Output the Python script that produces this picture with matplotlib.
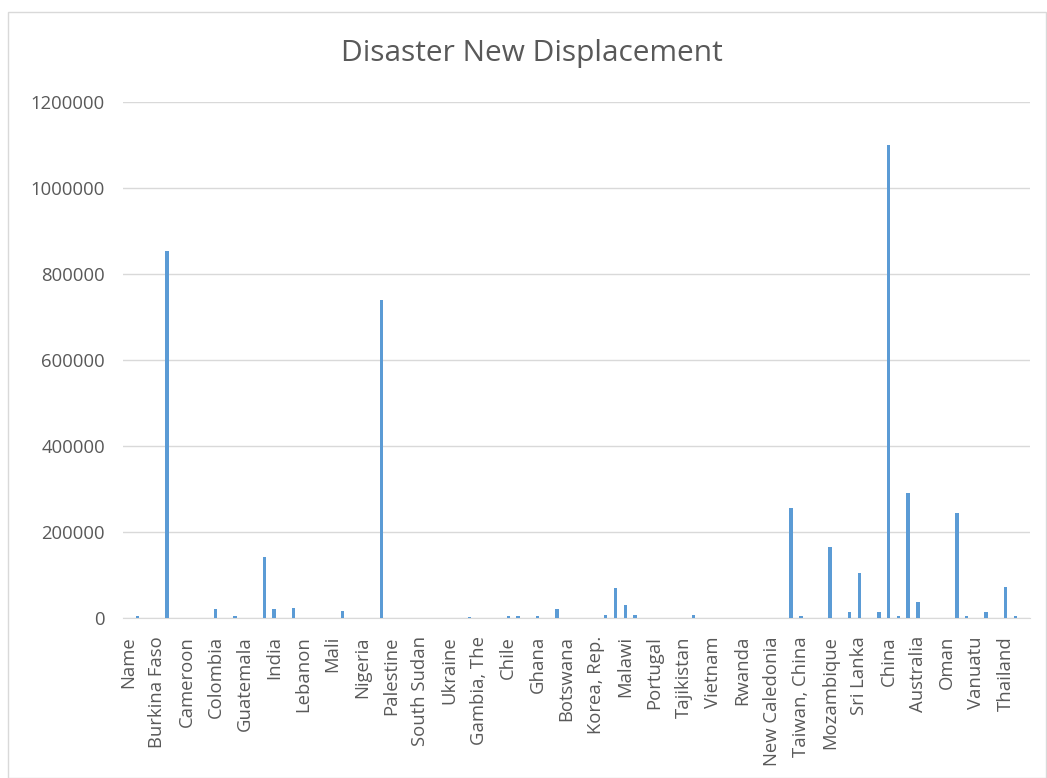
import matplotlib.pyplot as plt
from matplotlib.patches import Rectangle
from matplotlib.ticker import FixedLocator

# every third category carries a visible label
tick_labels = [
    "Name", "Burkina Faso", "Cameroon", "Colombia", "Guatemala", "India",
    "Lebanon", "Mali", "Nigeria", "Palestine", "South Sudan", "Ukraine",
    "Gambia, The", "Chile", "Ghana", "Botswana", "Korea, Rep.", "Malawi",
    "Portugal", "Tajikistan", "Vietnam", "Rwanda", "New Caledonia",
    "Taiwan, China", "Mozambique", "Sri Lanka", "China", "Australia",
    "Oman", "Vanuatu", "Thailand",
]

# new displacements per row (93 rows, 10 per line)
displacement = [
    0, 4000, 0, 0, 853000, 0, 0, 0, 0, 20000,
    0, 4000, 0, 0, 143000, 20000, 0, 24000, 0, 0,
    0, 0, 16000, 0, 0, 0, 740000, 0, 0, 0,
    0, 0, 0, 0, 0, 1500, 0, 0, 0, 4500,
    4500, 0, 4000, 0, 22000, 0, 0, 0, 0, 8000,
    69000, 31000, 8000, 0, 0, 0, 0, 0, 8000, 0,
    0, 0, 0, 0, 0, 0, 0, 0, 255000, 4000,
    0, 0, 165000, 0, 15000, 104000, 0, 15000, 1100000, 4000,
    290000, 38000, 0, 0, 0, 245000, 4000, 0, 15000, 0,
    73000, 4000, 0,
]

text_color = "#595959"
grid_color = "#d9d9d9"
bar_color = "#5b9bd5"

plt.rcParams["font.family"] = ["Open Sans", "DejaVu Sans"]

fig = plt.figure(figsize=(10.47, 7.78), dpi=100)
fig.patches.append(Rectangle((8 / 1047, 0), 1038 / 1047, 1 - 12 / 778,
                             transform=fig.transFigure, fill=False,
                             edgecolor=grid_color, lw=1))

ax = fig.add_axes([123 / 1047, 1 - 618 / 778, 907 / 1047, 516 / 778])
x = range(len(displacement))
ax.bar(x, displacement, width=0.35, color=bar_color, zorder=3)

ax.set_xlim(-0.5, len(displacement) - 0.5)
ax.set_ylim(0, 1200000)
ax.set_yticks(range(0, 1200001, 200000))
ax.set_yticklabels([str(v) for v in range(0, 1200001, 200000)])
ax.xaxis.set_major_locator(FixedLocator(range(0, len(displacement), 3)))
ax.set_xticklabels(tick_labels, rotation=90)

ax.grid(axis="y", color=grid_color, lw=1, zorder=0)
for side in ["top", "right", "left"]:
    ax.spines[side].set_visible(False)
ax.spines["bottom"].set_color(grid_color)
ax.tick_params(axis="both", length=0, colors=text_color, labelsize=13.3)
ax.tick_params(axis="y", pad=13)
ax.tick_params(axis="x", pad=13)

fig.text(532 / 1047, 1 - 53 / 778, "Disaster New Displacement",
         ha="center", va="center", fontsize=21.5, color=text_color)

fig.savefig("out.png", dpi=100)
